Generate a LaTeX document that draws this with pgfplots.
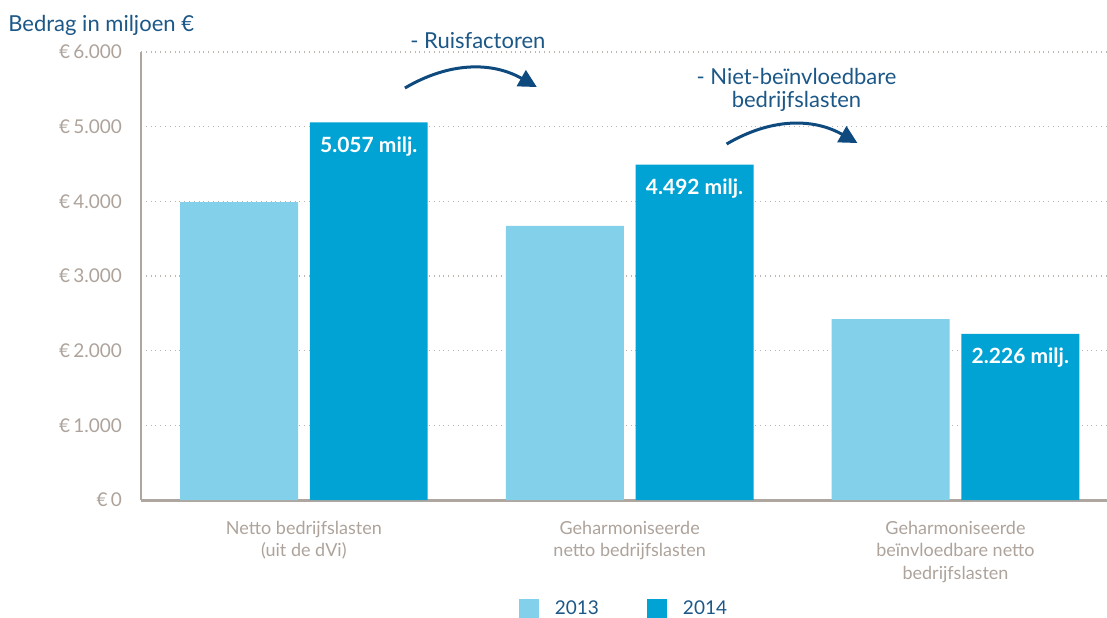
\documentclass[border=0pt]{standalone}
\usepackage{pgfplots}
\pgfplotsset{compat=1.18}
\usepackage{fontspec}
\setmainfont{Lato}
\usetikzlibrary{arrows.meta}
\definecolor{cLight}{HTML}{82D0E9}
\definecolor{cDark}{HTML}{00A3D3}
\definecolor{cNavy}{HTML}{1B5787}
\definecolor{cGray}{HTML}{ADA39B}
\definecolor{cAxis}{HTML}{AFA79F}
\definecolor{cGrid}{HTML}{BDB5AD}
\definecolor{cArrow}{HTML}{0E4A7E}
\begin{document}
\begin{tikzpicture}
\useasboundingbox (-70.5pt,-58.5pt) rectangle (483pt,250pt);
\begin{axis}[
  at={(0,0)}, anchor=south west, scale only axis,
  width=483pt, height=224pt,
  xmin=-0.5, xmax=2.465, ymin=0, ymax=6000,
  axis x line=bottom, axis y line=left,
  axis line style={-},
  x axis line style={line width=1.5pt, draw=cAxis},
  y axis line style={line width=1pt, draw=cAxis},
  ytick={0,1000,2000,3000,4000,5000,6000},
  yticklabels={€\,0,€\,1.000,€\,2.000,€\,3.000,€\,4.000,€\,5.000,€\,6.000},
  yticklabel style={font=\fontsize{9.5}{11}\selectfont, text=cGray, xshift=-6pt},
  xtick={0,1,2},
  xticklabels={{Netto bedrijfslasten\\(uit de dVi)},{Geharmoniseerde\\netto bedrijfslasten},{Geharmoniseerde\\beïnvloedbare netto\\bedrijfslasten}},
  xticklabel style={align=center, font=\fontsize{9}{11.2}\selectfont, text=cGray, yshift=-7pt},
  major tick length=0pt,
  ymajorgrids, grid style={dotted, cGrid, line width=0.6pt},
  clip=false,
  bar width=0.362,
  legend columns=2,
  legend style={at={(0.501,-0.243)}, anchor=center, draw=none, fill=none,
    font=\fontsize{9.5}{11}\selectfont, text=cNavy,
    /tikz/every odd column/.append style={column sep=6pt},
    /tikz/every even column/.append style={column sep=22pt}},
  legend image code/.code={\fill[#1] (0pt,-5pt) rectangle (10pt,5pt);},
]
\addplot[ybar, fill=cLight, draw=none, bar shift=0pt] coordinates {(-0.199,3990) (0.801,3670) (1.801,2424)};
\addlegendentry{2013}
\addplot[ybar, fill=cDark, draw=none, bar shift=0pt,
  point meta=y,
  nodes near coords={\pgfmathprintnumber[fixed, precision=0, 1000 sep={.}, assume math mode=true]{\pgfplotspointmeta}\ milj.},
  nodes near coords style={anchor=center, yshift=-12pt, text=white, font=\bfseries\fontsize{10.5}{12}\selectfont}]
  coordinates {(0.199,5057) (1.199,4492) (2.199,2226)};
\addlegendentry{2014}
\node[text=cNavy, font=\fontsize{11}{13}\selectfont] at (axis cs:0.534,6160) {- Ruisfactoren};
\node[text=cNavy, font=\fontsize{11}{11.5}\selectfont, align=center] at (axis cs:1.512,5496) {- Niet-beïnvloedbare\\bedrijfslasten};
\draw[cArrow, line width=1.5pt, -{Triangle[length=9pt,width=9pt]}] (axis cs:0.31,5518) to[bend left=30] (axis cs:0.715,5531);
\draw[cArrow, line width=1.5pt, -{Triangle[length=9pt,width=9pt]}] (axis cs:1.2975,4768) to[bend left=30] (axis cs:1.699,4781);
\end{axis}
\node[anchor=west, text=cNavy, font=\fontsize{11}{13}\selectfont, inner sep=0pt] at (-66.5pt,237.5pt) {Bedrag in miljoen €};
\end{tikzpicture}
\end{document}
